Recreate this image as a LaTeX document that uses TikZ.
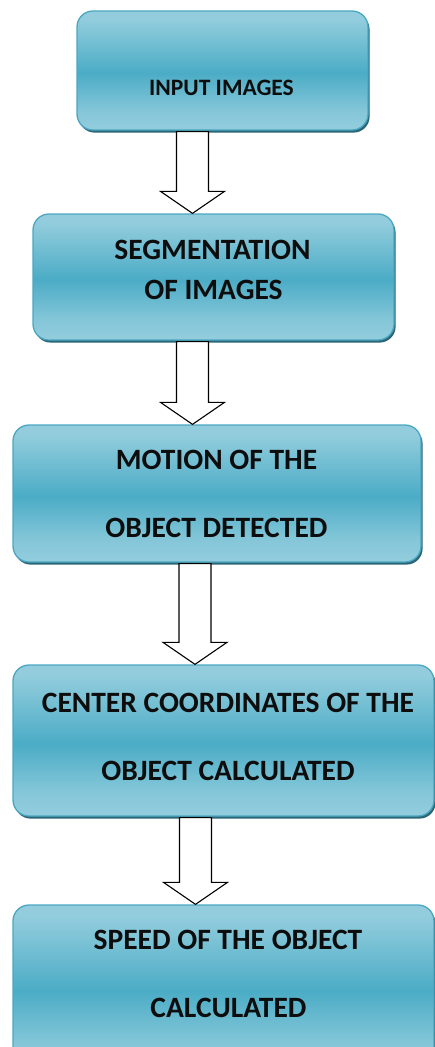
\documentclass[tikz,border=0pt]{standalone}
\usepackage{fontspec}
\setmainfont{Carlito}
\usetikzlibrary{calc}

\definecolor{aqualight}{HTML}{93CDDD}
\definecolor{aquamid}{HTML}{4BACC6}
\definecolor{aquaedge}{HTML}{4AA7C1}
\definecolor{aquashadow}{HTML}{2B6676}
\definecolor{inkblack}{HTML}{0D0D0D}

% light at top and bottom, deep aqua band across the middle
\pgfdeclareverticalshading{aquaband}{100bp}{%
  color(0bp)=(aqualight); color(25bp)=(aqualight); color(33bp)=(aqualight!80!aquamid);
  color(49bp)=(aquamid); color(66bp)=(aqualight!75!aquamid);
  color(72bp)=(aqualight); color(100bp)=(aqualight)}

\tikzset{
  flowbox/.style={draw=aquaedge, line width=1.3pt, rounded corners=16pt,
    shade, shading=aquaband, inner sep=0pt,
    preaction={fill=aquashadow, transform canvas={shift={(1.6pt,-2.6pt)}}}},
  lbl/.style={font=\fontsize{29.5}{32}\selectfont\bfseries, text=inkblack,
    anchor=base, inner sep=0pt},
  smalllbl/.style={lbl, font=\fontsize{23.5}{26}\selectfont\bfseries},
  blockarrow/.style={draw=black, fill=white, line width=1.1pt, line join=miter},
}

% hollow block arrow from the bottom of one box to the top of the next,
% centred on the vertical line x = #3
\newcommand\flowarrow[3]{%
  \draw[blockarrow] let \p1=(#1.south), \p2=(#2.north) in
    (#3pt-16pt,\y1-1pt) -- (#3pt-16pt,\y2+22pt) -- (#3pt-32pt,\y2+22pt)
    -- (#3pt,\y2) -- (#3pt+32pt,\y2+22pt) -- (#3pt+16pt,\y2+22pt)
    -- (#3pt+16pt,\y1-1pt) -- cycle;}

\begin{document}
\begin{tikzpicture}[x=1pt,y=1pt]
  \useasboundingbox (0,0) rectangle (435,-1047);
  \clip (0,0) rectangle (435,-1047);

  % process boxes
  \node[flowbox, minimum width=291pt, minimum height=119pt] (b1) at (222.5,-70.5) {};
  \node[flowbox, minimum width=361pt, minimum height=126pt] (b2) at (213.5,-277) {};
  \node[flowbox, minimum width=408pt, minimum height=137pt] (b3) at (217,-493.5) {};
  \node[flowbox, minimum width=421pt, minimum height=151pt] (b4) at (223.5,-740.5) {};
  \node[flowbox, minimum width=421pt, minimum height=165pt] (b5) at (223.5,-987.5) {};

  % box texts
  \node[smalllbl] (t1) at (221.5,-95.5) {INPUT IMAGES};
  \node[lbl] (t2a) at (212.5,-259.5) {SEGMENTATION};
  \node[lbl] (t2b) at (213.5,-299.5) {OF IMAGES};
  \node[lbl] (t3a) at (216.5,-469.5) {MOTION OF THE};
  \node[lbl] (t3b) at (216.5,-537.5) {OBJECT DETECTED};
  \node[lbl] (t4a) at (228,-712.5) {CENTER COORDINATES OF THE};
  \node[lbl] (t4b) at (228,-780.5) {OBJECT CALCULATED};
  \node[lbl] (t5a) at (228,-949.5) {SPEED OF THE OBJECT};
  \node[lbl] (t5b) at (228.5,-1017.5) {CALCULATED};

  % connectors
  \flowarrow{b1}{b2}{192.5}
  \flowarrow{b2}{b3}{192.5}
  \flowarrow{b3}{b4}{195}
  \flowarrow{b4}{b5}{195.5}
\end{tikzpicture}
\end{document}
